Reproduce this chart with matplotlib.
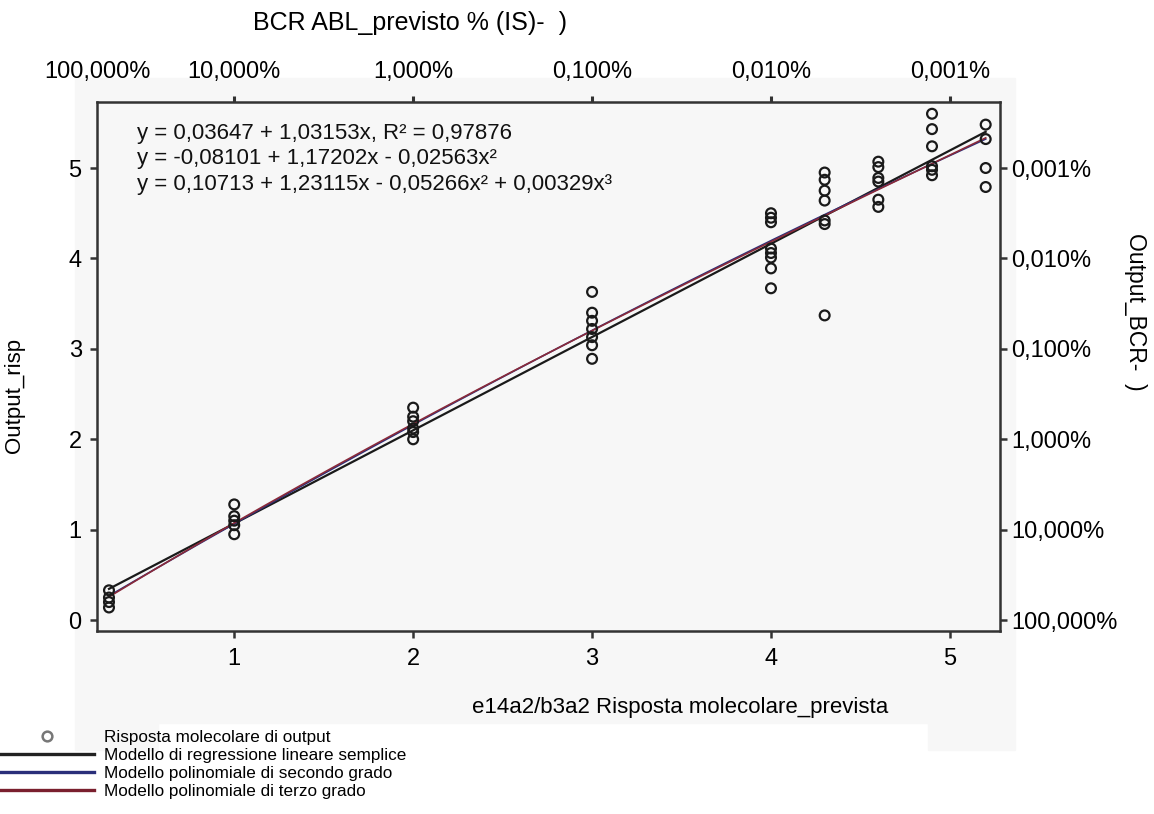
import matplotlib
matplotlib.use("Agg")
import matplotlib.pyplot as plt
import numpy as np
from matplotlib.lines import Line2D
from matplotlib.patches import Rectangle

plt.rcParams['font.family'] = ['Liberation Sans', 'DejaVu Sans']

# Scatter data: predicted molecular response (x) vs output response (y)
x_groups = [0.3, 1, 2, 3, 4, 4.3, 4.6, 4.9, 5.2]
y_groups = [
    [0.33, 0.25, 0.20, 0.14],
    [1.28, 1.15, 1.10, 1.05, 0.95],
    [2.35, 2.25, 2.20, 2.12, 2.08, 2.00],
    [3.63, 3.40, 3.31, 3.22, 3.13, 3.04, 2.89],
    [4.50, 4.45, 4.40, 4.11, 4.06, 4.01, 3.89, 3.67],
    [4.95, 4.87, 4.75, 4.64, 4.42, 4.38, 3.37],
    [5.07, 5.01, 4.89, 4.85, 4.65, 4.57],
    [5.60, 5.43, 5.24, 5.02, 4.98, 4.92],
    [5.48, 5.32, 5.00, 4.79],
]

# Fitted model coefficients (constant first)
lin_coef = [0.03647, 1.03153]
quad_coef = [-0.08101, 1.17202, -0.02563]
cub_coef = [-0.10713, 1.23115, -0.05266, 0.00329]

eq_lines = [
    "y = 0,03647 + 1,03153x, R² = 0,97876",
    "y = -0,08101 + 1,17202x - 0,02563x²",
    "y = 0,10713 + 1,23115x - 0,05266x² + 0,00329x³",
]

bottom_ticks = [1, 2, 3, 4, 5]
top_labels = ["100,000%", "10,000%", "1,000%", "0,100%", "0,010%", "0,001%"]
left_ticks = [0, 1, 2, 3, 4, 5]
right_labels = ["100,000%", "10,000%", "1,000%", "0,100%", "0,010%", "0,001%"]

legend_labels = [
    "Risposta molecolare di output",
    "Modello di regressione lineare semplice",
    "Modello polinomiale di secondo grado",
    "Modello polinomiale di terzo grado",
]

W, H = 1154, 814
fig = plt.figure(figsize=(W / 100, H / 100), dpi=100)
fig.patch.set_facecolor("white")

# light grey pasted background
bg = "#f7f7f7"
fig.add_artist(Rectangle((75 / W, 1 - 723 / H), (1015 - 75) / W, (723 - 78) / H,
                         transform=fig.transFigure, color=bg, zorder=-10))
fig.add_artist(Rectangle((75 / W, 1 - 750 / H), (158 - 75) / W, 27 / H,
                         transform=fig.transFigure, color=bg, zorder=-10))
fig.add_artist(Rectangle((928 / W, 1 - 750 / H), (1015 - 928) / W, 27 / H,
                         transform=fig.transFigure, color=bg, zorder=-10))

ax = fig.add_axes([97 / W, 1 - 631 / H, (1000 - 97) / W, (631 - 102) / H])
ax.set_facecolor(bg)
ax.set_xlim(0.233, 5.28)
ax.set_ylim(-0.12, 5.73)

for xv, ys in zip(x_groups, y_groups):
    ax.scatter([xv] * len(ys), ys, s=50, facecolors="none", edgecolors="#1a1a1a",
               linewidths=1.6, zorder=3)

xs = np.linspace(0.3, 5.2, 200)
ax.plot(xs, np.polyval(lin_coef[::-1], xs), color="#1a1a1a", lw=1.6, zorder=2)
ax.plot(xs, np.polyval(quad_coef[::-1], xs), color="#2a2f7a", lw=1.2, zorder=2)
ax.plot(xs, np.polyval(cub_coef[::-1], xs), color="#8a2a3a", lw=1.2, zorder=2)

for i, t in enumerate(eq_lines):
    ax.text(137 / W, 1 - 133 / H - i * 25.5 / H, t, transform=fig.transFigure,
            fontsize=16, va="center", ha="left", color="#111111")

for s in ax.spines.values():
    s.set_color("#333333")
    s.set_linewidth(1.8)

ax.set_xticks(bottom_ticks)
ax.set_xticklabels([str(v) for v in bottom_ticks])
ax.set_yticks(left_ticks)
ax.set_yticklabels([str(v) for v in left_ticks])
ax.tick_params(axis="both", direction="out", length=5, width=1.8, color="#333333",
               labelsize=17, pad=6)
ax.tick_params(axis="x", pad=7)

# right axis
axr = ax.twinx()
axr.set_ylim(ax.get_ylim())
axr.set_yticks(left_ticks)
axr.set_yticklabels(right_labels)
axr.tick_params(axis="y", direction="out", length=5, width=1.8, color="#333333",
                labelsize=17, pad=3)
for s in axr.spines.values():
    s.set_visible(False)

# top axis
axt = ax.twiny()
axt.set_xlim(ax.get_xlim())
axt.set_xticks([ax.get_xlim()[0] + 0.001] + bottom_ticks)
axt.set_xticklabels(top_labels)
axt.tick_params(axis="x", direction="out", length=4, width=2.2, color="#333333",
                labelsize=17, pad=10)
axt.xaxis.get_major_ticks()[0].tick2line.set_visible(False)
for s in axt.spines.values():
    s.set_visible(False)

fig.text(410 / W, 1 - 23 / H, "BCR ABL_previsto % (IS)-  )", fontsize=18,
         ha="center", va="center")
fig.text(680 / W, 1 - 707 / H, "e14a2/b3a2 Risposta molecolare_prevista",
         fontsize=16, ha="center", va="center")
fig.text(15 / W, 1 - 395 / H, "Output_risp", fontsize=16, rotation=90,
         ha="center", va="center")
fig.text(1136 / W, 1 - 312 / H, "Output_BCR-  )", fontsize=16.5, rotation=270,
         ha="center", va="center")

handles = [
    Line2D([], [], ls="none", marker="o", markersize=7, markerfacecolor="none",
           markeredgecolor="#777777", markeredgewidth=1.8),
    Line2D([], [], color="#222222", lw=2.4),
    Line2D([], [], color="#2a2f7a", lw=2.4),
    Line2D([], [], color="#7a1f2e", lw=2.4),
]
fig.legend(handles, legend_labels, loc="upper left", bbox_to_anchor=(0, 1 - 730 / H),
           frameon=False, fontsize=12.3, handlelength=5.5, handletextpad=0.6,
           labelspacing=0.18, borderpad=0, borderaxespad=0)

fig.savefig("out.png", dpi=100)
